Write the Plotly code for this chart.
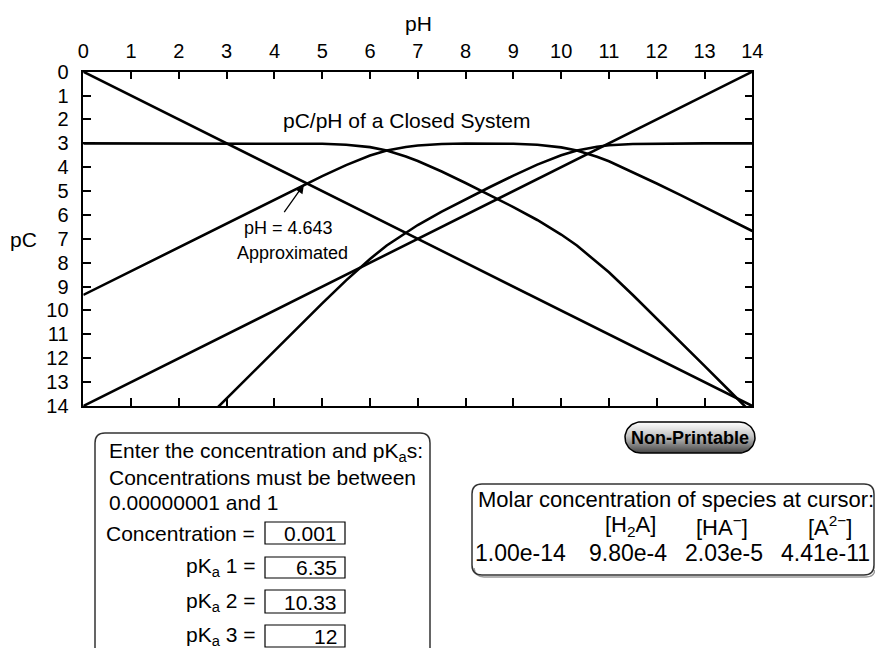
import numpy as np
import plotly.graph_objects as go

# ---- data: pC of each species vs pH (C = 0.001, pKa1 = 6.35, pKa2 = 10.33) ----
ph = [0, 1, 2, 2.5, 3, 4, 4.5, 5, 5.5, 6, 6.35, 6.75, 7, 7.5, 8, 8.5, 9, 9.5,
      10, 10.33, 10.75, 11, 11.5, 12, 12.5, 13, 13.5, 14]
pc_h2a = [3.00, 3.00, 3.00, 3.00, 3.00, 3.00, 3.01, 3.02, 3.06, 3.16, 3.30, 3.55,
          3.74, 4.18, 4.66, 5.16, 5.67, 6.21, 6.82, 7.28, 7.96, 8.40, 9.35, 10.33,
          11.32, 12.32, 13.32, 14.32]
pc_ha = [9.35, 8.35, 7.35, 6.85, 6.35, 5.35, 4.86, 4.37, 3.91, 3.51, 3.30, 3.15,
         3.09, 3.03, 3.01, 3.01, 3.02, 3.06, 3.17, 3.30, 3.56, 3.75, 4.20, 4.68,
         5.17, 5.67, 6.17, 6.67]
pc_a2 = [None, None, None, 14.68, 13.68, 11.68, 10.69, 9.70, 8.74, 7.84, 7.28, 6.73,
         6.42, 5.86, 5.34, 4.84, 4.35, 3.89, 3.50, 3.30, 3.14, 3.08, 3.03, 3.01,
         3.00, 3.00, 3.00, 3.00]
ph_ends = [0, 14]
pc_h = [0, 14]
pc_oh = [14, 0]

tick_vals = list(range(0, 15))
cross_ph = 4.643

conc_label = "0.001"
pka_labels = ["6.35", "10.33", "12"]
cursor_headers = ["[H<sub>2</sub>A]", "[HA<sup>\u2212</sup>]", "[A<sup>2\u2212</sup>]"]
cursor_values = ["1.00e-14", "9.80e-4", "2.03e-5", "4.41e-11"]

FONT = "Liberation Sans, Arial, Helvetica, sans-serif"
W, H = 875, 648

fig = go.Figure()

line_style = dict(color="black", width=2.6)
for yy in (pc_h, pc_oh):
    fig.add_trace(go.Scatter(x=ph_ends, y=yy, mode="lines", line=line_style,
                             hoverinfo="skip", showlegend=False))
for yy in (pc_h2a, pc_ha, pc_a2):
    fig.add_trace(go.Scatter(x=ph, y=yy, mode="lines", line=line_style,
                             connectgaps=False, showlegend=False))

# ---- pill button with a vertical gradient (drawn on a pixel-space overlay) ----
bx0, bx1, by0, by1 = 625, 755, 422, 453
r = (by1 - by0) / 2
t = np.linspace(-np.pi / 2, np.pi / 2, 30)
px = np.concatenate([bx1 - r + r * np.cos(t), bx0 + r - r * np.cos(t[::-1])])
py = np.concatenate([(by0 + r) + r * np.sin(t), (by0 + r) + r * np.sin(t[::-1])])
px = np.append(px, px[0])
py = np.append(py, py[0])
fig.add_trace(go.Scatter(
    x=px, y=py, xaxis="x3", yaxis="y3", mode="lines", fill="toself",
    line=dict(color="black", width=1.5),
    fillgradient=dict(type="vertical", start=by0, stop=by1,
                      colorscale=[[0, "#ffffff"], [0.45, "#c4c4c4"], [1, "#454545"]]),
    hoverinfo="skip", showlegend=False))

axis_common = dict(
    showline=True, linecolor="black", linewidth=1.5, mirror="ticks",
    ticks="inside", ticklen=8, tickwidth=1.5, tickcolor="black",
    showgrid=False, zeroline=False,
    tickfont=dict(family=FONT, size=20, color="black"),
)

fig.update_layout(
    width=W, height=H, autosize=False,
    margin=dict(l=0, r=0, t=0, b=0, pad=0, autoexpand=False),
    paper_bgcolor="white", plot_bgcolor="rgba(0,0,0,0)",
    font=dict(family=FONT, color="black"),
    xaxis=dict(domain=[83.3 / W, 752.3 / W], range=[0, 14], side="top",
               tickmode="array", tickvals=tick_vals, anchor="y",
               ticklabelstandoff=4, automargin=False, **axis_common),
    yaxis=dict(domain=[1 - 406 / H, 1 - 71.7 / H], range=[14, 0],
               tickmode="array", tickvals=tick_vals, anchor="x",
               ticklabelstandoff=9, automargin=False, **axis_common),
    xaxis3=dict(domain=[0, 1], range=[0, W], visible=False, anchor="y3",
                fixedrange=True, showticklabels=False),
    yaxis3=dict(domain=[0, 1], range=[H, 0], visible=False, anchor="x3",
                fixedrange=True, showticklabels=False),
)

ann = []


def txt(x, y, s, size=21, xanchor="left", **kw):
    ann.append(dict(x=x, y=y, xref="x3", yref="y3", text=s, showarrow=False,
                    xanchor=xanchor, yanchor="middle",
                    font=dict(family=FONT, size=size, color="black"), **kw))


# axis titles and chart title
txt(418, 23, "pH", xanchor="center")
txt(23, 239, "pC", xanchor="center")
txt(406, 120, "pC/pH of a Closed System", xanchor="center")

# crossing-point callout
ann.append(dict(x=cross_ph, y=cross_ph, xref="x", yref="y", text="",
                showarrow=True, arrowhead=2, arrowsize=1.4, arrowwidth=1.3,
                arrowcolor="black", ax=-22, ay=31, standoff=2))
txt(288, 228, "pH = %.3f" % cross_ph, size=18, xanchor="center")
txt(292, 253, "Approximated", size=18, xanchor="center")

# input panel
txt(107, 452, "Enter the concentration and pK<sub>a</sub>s:")
txt(107, 477, "Concentrations must be between")
txt(107, 502, "0.00000001 and 1")
rows_y = [533, 567, 602, 636]
row_labels = ["Concentration =", "pK<sub>a</sub> 1 =", "pK<sub>a</sub> 2 =",
              "pK<sub>a</sub> 3 ="]
row_values = [conc_label] + pka_labels
box_y = [(522, 544), (557, 578), (590, 613), (625, 647)]
shapes = []
for yv, lab, val, (y0, y1) in zip(rows_y, row_labels, row_values, box_y):
    txt(257, yv, lab, xanchor="right")
    txt(339, yv, val, xanchor="right")
    shapes.append(dict(type="rect", xref="x3", yref="y3", x0=265, x1=345,
                       y0=y0, y1=y1, line=dict(color="black", width=1.2)))

shapes.append(dict(type="path", xref="x3", yref="y3",
                   path="M 95,700 L 95,443 Q 95,433 105,433 L 420,433 "
                        "Q 430,433 430,443 L 430,700",
                   line=dict(color="#333333", width=1.5)))

# cursor readout panel (soft shadow under the frame, then the frame)
shapes.append(dict(type="path", xref="x3", yref="y3",
                   path="M 474,568 Q 475,577 484,577 L 866,577 Q 874,577 875,570",
                   line=dict(color="#9a9a9a", width=1.5)))
shapes.append(dict(type="path", xref="x3", yref="y3",
                   path="M 482,484 L 864,484 Q 874,484 874,494 L 874,565 "
                        "Q 874,575 864,575 L 482,575 Q 472,575 472,565 "
                        "L 472,494 Q 472,484 482,484 Z",
                   line=dict(color="#333333", width=1.5)))
txt(675.5, 499, "Molar concentration of species at cursor:", size=22,
    xanchor="center")
for cx, s in zip([630, 722, 830], cursor_headers):
    txt(cx, 526, s, size=22, xanchor="center")
for cx, s in zip([520.5, 627.5, 724, 825], cursor_values):
    txt(cx, 553, s, size=23, xanchor="center")

# button label
ann.append(dict(x=(bx0 + bx1) / 2, y=(by0 + by1) / 2, xref="x3", yref="y3",
                text="<b>Non-Printable</b>", showarrow=False,
                xanchor="center", yanchor="middle",
                font=dict(family=FONT, size=18, color="black")))

fig.update_layout(annotations=ann, shapes=shapes)

fig.write_html("out.html")
